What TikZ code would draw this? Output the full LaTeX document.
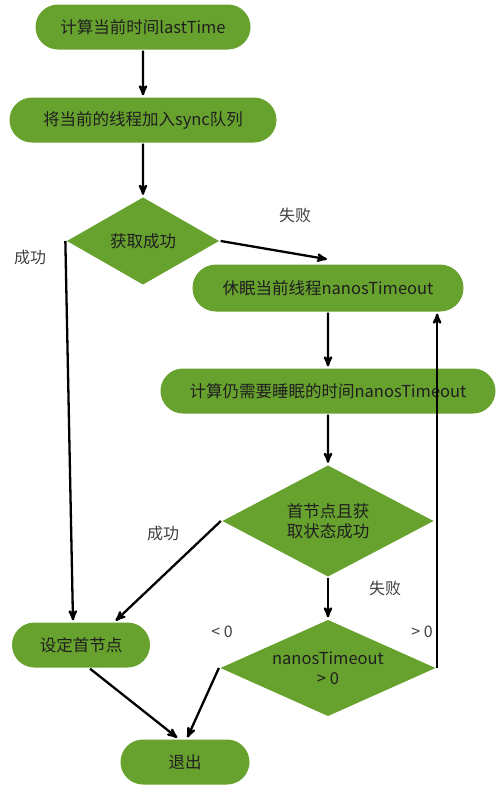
\documentclass[tikz,border=0pt]{standalone}
\usepackage{fontspec}
\setmainfont{Noto Sans CJK SC}
\usetikzlibrary{arrows,shapes.geometric,shapes.misc}
\definecolor{leaf}{RGB}{104,162,46}

\begin{document}
\begin{tikzpicture}[->,>=stealth',shorten >=1pt,x=1pt,y=-1pt,line width=2.3pt,
                    font=\fontsize{16.5}{20}\selectfont]
  \tikzstyle{proc}=[fill=leaf,text=black!88,shape=rounded rectangle,minimum height=45pt,inner sep=0pt]
  \tikzstyle{test}=[fill=leaf,text=black!88,shape=diamond,inner sep=0pt,align=center]
  \tikzstyle{tag}=[text=black!75,font=\fontsize{16}{19}\selectfont]

  \useasboundingbox (0,0) rectangle (500,790);

  \node[proc,minimum width=215pt] (calc)   at (143,27)  {计算当前时间lastTime};
  \node[proc,minimum width=267pt] (join)   at (143,120) {将当前的线程加入sync队列};
  \node[test,aspect=1.74,minimum width=153pt,minimum height=88pt] (try) at (143,241) {获取成功};
  \node[proc,minimum width=271pt,minimum height=47pt] (sleep) at (328,288) {休眠当前线程nanosTimeout};
  \node[proc,minimum width=335pt] (remain) at (328,391) {计算仍需要睡眠的时间nanosTimeout};
  \node[test,aspect=1.9,minimum width=212pt,minimum height=112pt] (check) at (328,521) {首节点且获\\取状态成功};
  \node[test,aspect=2.2,minimum width=216pt,minimum height=97pt] (timeout) at (328,668) {nanosTimeout\\> 0};
  \node[proc,minimum width=138pt] (head)   at (81,645)  {设定首节点};
  \node[proc,minimum width=129pt] (exit)   at (185,762) {退出};

  \node[tag] (tryOk)   at (30,257)  {成功};
  \node[tag] (tryFail) at (295,215) {失败};
  \node[tag] (chkOk)   at (163,533) {成功};
  \node[tag] (chkFail) at (385,588) {失败};
  \node[tag] (neg)     at (222,632) {< 0};
  \node[tag] (pos)     at (422,632) {> 0};

  \path (calc) edge (join)
        (join) edge (try)
        (try.east) edge ([yshift=4pt]sleep.north)
        (try.west) edge ([xshift=-8pt]head.north)
        (sleep) edge (remain)
        (remain) edge (check)
        (check.west) edge ([xshift=34pt]head.north)
        (check) edge (timeout)
        (timeout.east) edge (timeout.east |- sleep.south)
        ([xshift=9pt]head.south) edge ([xshift=-7pt]exit.north)
        (timeout.west) edge ([xshift=2pt]exit.north);
\end{tikzpicture}
\end{document}
